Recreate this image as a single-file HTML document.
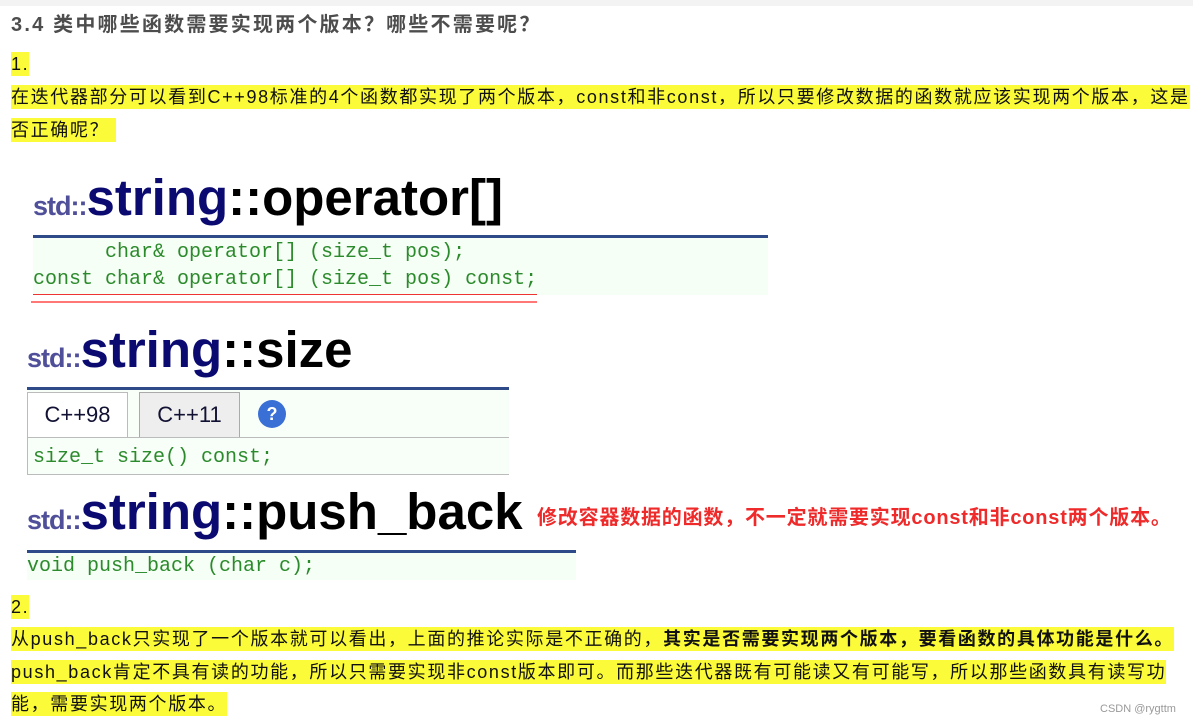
<!DOCTYPE html>
<html><head><meta charset="utf-8"><style>
body{margin:0;width:1193px;height:727px;background:#fff;position:relative;overflow:hidden;font-family:"Liberation Sans","Noto Sans CJK SC",sans-serif}
.a{position:absolute;white-space:pre}
.hl{background:#fbfb3a;color:#111;font-size:18px;line-height:24px;letter-spacing:1.65px}
.h{font-weight:bold;font-size:51px;line-height:54px;color:#000}
.h .s{font-size:27px;color:#4f4f9a;letter-spacing:-1px}
.h .n{color:#0a0a70}
.rule{position:absolute;height:3px;background:#2f4a88}
.code{position:absolute;background:#f6fff6;font-family:"Liberation Mono",monospace;font-size:20px;color:#2b8a2b;line-height:27px;white-space:pre}
</style></head><body>
<div class="a" style="left:0;top:0;width:1193px;height:6px;background:#f3f3f3"></div>
<div class="a" style="left:11px;top:8px;font-size:20px;letter-spacing:2.2px;font-weight:bold;color:#4d4d4d">3.4 类中哪些函数需要实现两个版本？哪些不需要呢？</div>
<div class="a hl" style="left:11px;top:52px">1.</div>
<div class="a hl" style="left:11px;top:85px">在迭代器部分可以看到C++98标准的4个函数都实现了两个版本，const和非const，所以只要修改数据的函数就应该实现两个版本，这是</div>
<div class="a hl" style="left:11px;top:118px">否正确呢？ </div>

<div class="a h" style="left:33px;top:171px"><span class="s">std::</span><span class="n">string</span>::operator[]</div>
<div class="rule" style="left:33px;top:235px;width:735px"></div>
<div class="code" style="left:33px;top:238px;width:735px;height:56px;padding-top:1px">      char&amp; operator[] (size_t pos);
const char&amp; operator[] (size_t pos) const;</div>
<div class="a" style="left:33px;top:294px;width:504px;height:1px;background:#e33"></div>
<div class="a" style="left:31px;top:301px;width:506px;height:2px;background:#f77"></div>

<div class="a h" style="left:27px;top:323px"><span class="s">std::</span><span class="n">string</span>::size</div>
<div class="rule" style="left:27px;top:387px;width:482px"></div>
<div class="a" style="left:27px;top:390px;width:482px;height:84px;background:#f8fff8;border-bottom:1px solid #bbb"></div>
<div class="a" style="left:27px;top:392px;width:99px;height:45px;background:#fff;border:1px solid #bbb;border-bottom:none;font-size:22px;line-height:44px;text-align:center;color:#113">C++98</div>
<div class="a" style="left:139px;top:392px;width:99px;height:44px;background:#eee;border:1px solid #aaa;font-size:22px;line-height:44px;text-align:center;color:#113">C++11</div>
<div class="a" style="left:258px;top:400px;width:28px;height:28px;border-radius:50%;background:#3a6fd6;color:#fff;font-weight:bold;font-size:18px;text-align:center;line-height:28px">?</div>
<div class="a" style="left:27px;top:437px;width:482px;height:1px;background:#bbb"></div>
<div class="a" style="left:27px;top:437px;width:1px;height:37px;background:#bbb"></div>
<div class="code" style="left:33px;top:444px;background:none">size_t size() const;</div>

<div class="a h" style="left:27px;top:485px"><span class="s">std::</span><span class="n">string</span>::push_back</div>
<div class="a" style="left:537px;top:501px;font-size:20px;letter-spacing:0.8px;font-weight:bold;color:#ee2a2a">修改容器数据的函数，不一定就需要实现const和非const两个版本。</div>
<div class="rule" style="left:27px;top:550px;width:549px"></div>
<div class="code" style="left:27px;top:553px;width:549px;height:27px">void push_back (char c);</div>

<div class="a hl" style="left:11px;top:595px">2.</div>
<div class="a hl" style="left:11px;top:627px">从push_back只实现了一个版本就可以看出，上面的推论实际是不正确的，<b>其实是否需要实现两个版本，要看函数的具体功能是什么。</b></div>
<div class="a hl" style="left:11px;top:660px">push_back肯定不具有读的功能，所以只需要实现非const版本即可。而那些迭代器既有可能读又有可能写，所以那些函数具有读写功</div>
<div class="a hl" style="left:11px;top:692px">能，需要实现两个版本。</div>
<div class="a" style="left:1100px;top:703px;font-size:11px;color:#999">CSDN @rygttm</div>
</body></html>
